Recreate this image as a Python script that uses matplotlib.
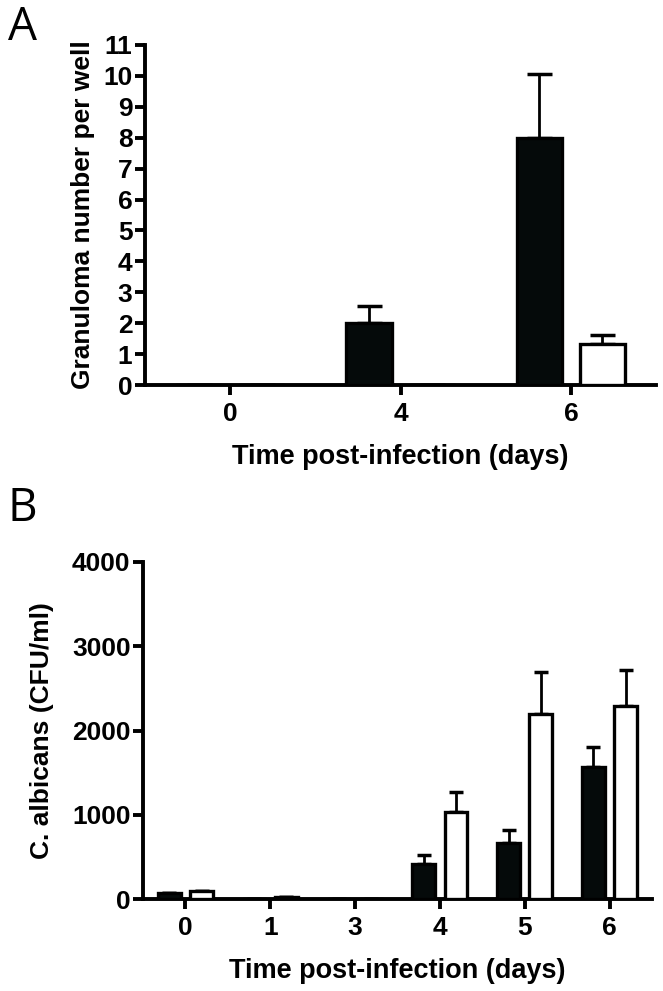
import matplotlib
matplotlib.use("Agg")
import matplotlib.pyplot as plt
import numpy as np

# Panel A: granuloma counts
a_days = ["0", "4", "6"]
a_black = [0.0, 2.0, 8.0]
a_black_err = [0.0, 0.55, 2.05]
a_white = [0.0, 0.0, 1.33]
a_white_err = [0.0, 0.0, 0.28]

# Panel B: C. albicans CFU
b_days = ["0", "1", "3", "4", "5", "6"]
b_black = [70, 0, 0, 420, 670, 1570]
b_black_err = [0, 0, 0, 100, 155, 235]
b_white = [100, 25, 0, 1030, 2200, 2290]
b_white_err = [0, 0, 0, 240, 495, 430]

plt.rcParams["font.family"] = ["Liberation Sans", "DejaVu Sans"]
plt.rcParams["font.weight"] = "bold"

fig = plt.figure(figsize=(6.63, 9.91), dpi=100)
axA = fig.add_axes([0.2187, 0.6115, 0.771, 0.3431])
axB = fig.add_axes([0.2157, 0.0928, 0.7677, 0.3401])

LW = 2.4


def draw(ax, cats, black, berr, white, werr, width, off, capsize):
    x = np.arange(len(cats))
    z = [0] * len(cats)
    ax.bar(x - off, black, width, color="#050a0a", edgecolor="black",
           linewidth=LW, zorder=3)
    ax.bar(x + off, white, width, color="white", edgecolor="black",
           linewidth=LW, zorder=3)
    ax.errorbar(x - off, black, yerr=[z, berr], fmt="none", ecolor="black",
                elinewidth=2, capsize=capsize, capthick=2.5, zorder=2)
    ax.errorbar(x + off, white, yerr=[z, werr], fmt="none", ecolor="black",
                elinewidth=2, capsize=capsize, capthick=2.5, zorder=2)
    ax.set_xticks(x)
    ax.set_xticklabels(cats)
    ax.set_xlim(-0.5, len(cats) - 0.5)
    for s in ("top", "right"):
        ax.spines[s].set_visible(False)
    for s in ("left", "bottom"):
        ax.spines[s].set_linewidth(2.8)
    ax.tick_params(axis="both", width=2.8, length=7, labelsize=19, pad=2)
    ax.tick_params(axis="x", pad=5)
    ax.set_xlabel("Time post-infection (days)", fontsize=19.5,
                  fontweight="bold", labelpad=13)


draw(axA, a_days, a_black, a_black_err, a_white, a_white_err, 0.265, 0.185, 9)
axA.set_ylim(0, 11)
axA.set_yticks(range(0, 12))
axA.set_ylabel("Granuloma number per well", fontsize=19, fontweight="bold",
               labelpad=6)

draw(axB, b_days, b_black, b_black_err, b_white, b_white_err, 0.27, 0.19, 5)
axB.set_ylim(0, 4000)
axB.set_yticks([0, 1000, 2000, 3000, 4000])
axB.set_ylabel("C. albicans (CFU/ml)", fontsize=19, fontweight="bold",
               labelpad=13)

fig.text(0.012, 0.995, "A", fontsize=33, fontweight="normal",
         family="Open Sans", va="top", ha="left")
fig.text(0.012, 0.510, "B", fontsize=33, fontweight="normal",
         family="Open Sans", va="top", ha="left")

fig.savefig("out.png", dpi=100)
